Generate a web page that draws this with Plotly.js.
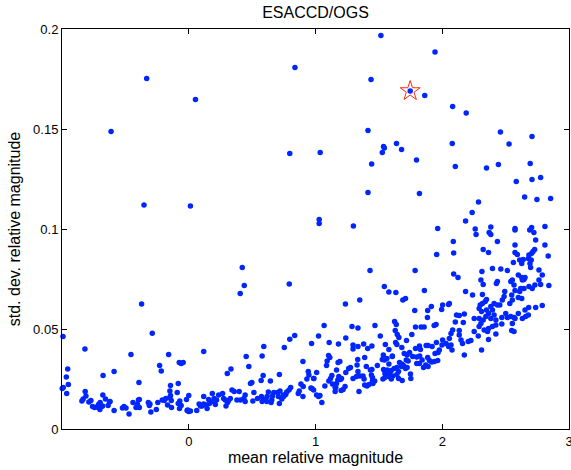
<!DOCTYPE html>
<html>
<head>
<meta charset="utf-8">
<script src="https://cdn.plot.ly/plotly-3.0.1.min.js"></script>
<style>html,body{margin:0;padding:0;background:#fff;}#chart{width:571px;height:470px;}</style>
</head>
<body>
<div id="chart"></div>
<script>
// mean relative magnitude (x) and std. dev. relative magnitude (y)

// low-left cluster
const meanA = [-0.992,-0.288,-0.819,-0.456,-0.159,-0.955,-0.966,-0.950,-0.990,-0.998,
  -0.963,-0.676,-0.589,-0.393,-0.230,-0.217,-0.075,-0.060,-0.044,-0.144,
  -0.083,-0.149,-0.144,-0.091,0.0,-0.817,-0.811,-0.833,-0.843,-0.788,
  -0.772,-0.759,-0.743,-0.725,-0.712,-0.699,-0.688,-0.701,-0.680,-0.678,
  -0.657,-0.636,-0.625,-0.621,-0.589,-0.523,-0.511,-0.495,-0.471,-0.440,
  -0.416,-0.405,-0.397,-0.390,-0.390,-0.319,-0.311,-0.306,-0.299,-0.256,
  -0.244,-0.209,-0.193,-0.181,-0.167,-0.136,-0.149,-0.138,-0.083,-0.071,
  -0.060,-0.073,-0.013,0.0];
const stdA = [0.0462,0.0479,0.040,0.0373,0.0373,0.030,0.026,0.0222,0.0207,0.0203,
  0.0178,0.0268,0.0287,0.0232,0.0318,0.029,0.0333,0.0328,0.0332,0.0218,
  0.0228,0.019,0.0168,0.0183,0.0167,0.0188,0.0165,0.015,0.014,0.0135,
  0.0142,0.0112,0.0108,0.011,0.0122,0.0133,0.0112,0.0098,0.0115,0.017,
  0.015,0.0117,0.0135,0.0137,0.0092,0.0105,0.0112,0.0105,0.0075,0.0132,
  0.0108,0.0122,0.0145,0.0148,0.0108,0.0132,0.0118,0.0125,0.0085,0.0098,
  0.0132,0.0145,0.0142,0.0153,0.012,0.0108,0.0158,0.0142,0.0127,0.014,
  0.0118,0.0103,0.0093,0.0087];

// 0 .. 1 cluster plus isolated points on the left half
const meanB = [0.118,0.836,0.797,0.969,0.592,0.754,0.453,0.579,0.474,0.901,
  0.333,0.304,0.587,0.571,0.715,0.644,0.498,0.487,0.943,0.948,
  0.932,0.985,0.885,0.903,0.872,0.864,0.964,0.985,0.901,0.804,
  0.791,0.773,0.765,0.749,0.734,0.746,0.720,0.702,0.707,0.671,
  0.660,0.655,0.650,0.628,0.618,0.616,0.595,0.579,0.573,0.715,
  0.542,0.514,0.506,0.445,0.435,0.445,0.408,0.398,0.380,0.359,
  0.341,0.328,0.314,0.306,0.294,0.288,0.275,0.267,0.236,0.220,
  0.210,0.200,0.192,0.186,0.163,0.157,0.145,0.137,0.118,0.118,
  0.105,0.092,0.082,0.063,0.013,-0.008,-0.018,
  0.422,0.438,0.406,0.793,-0.372,
  -0.332,0.053,0.838,-0.613,0.797,-0.353,0.013];
const stdB = [0.0388,0.0467,0.0449,0.0428,0.0413,0.0408,0.0362,0.0365,0.0313,0.0337,
  0.030,0.0278,0.0268,0.0243,0.0273,0.024,0.0232,0.0228,0.0287,0.027,
  0.025,0.0253,0.0225,0.0212,0.019,0.0178,0.0205,0.0195,0.0162,0.0208,
  0.0195,0.0185,0.0173,0.0162,0.015,0.017,0.019,0.0183,0.0162,0.0182,
  0.0165,0.0145,0.0132,0.0185,0.0162,0.0137,0.0148,0.0138,0.0162,0.0128,
  0.0153,0.0182,0.014,0.017,0.0153,0.0138,0.0145,0.0187,0.0145,0.0188,
  0.0195,0.0153,0.0142,0.0132,0.0115,0.0145,0.0153,0.0178,0.017,0.0145,
  0.0123,0.0153,0.0137,0.0178,0.0128,0.0148,0.0103,0.012,0.0125,0.0162,
  0.0115,0.0115,0.0125,0.0092,0.009,0.0095,0.0148,
  0.0807,0.0717,0.0677,0.0725,0.0625,
  0.1753,0.1648,0.1807,0.1487,0.1377,0.112,0.1115];

// 1 .. 2 cluster
const meanC = [1.236,1.349,1.689,1.914,1.783,1.885,1.883,1.068,1.288,1.335,
  1.469,1.624,1.637,1.789,1.833,1.857,1.936,1.951,1.024,1.239,
  1.108,1.181,1.296,1.296,1.335,1.380,1.412,1.445,1.511,1.629,
  1.645,1.658,1.632,1.642,1.681,1.551,1.579,1.606,1.718,1.760,
  1.789,1.820,1.828,1.873,1.888,1.920,1.954,1.967,1.943,1.742,
  1.723,1.700,1.716,1.731,1.767,1.799,1.822,1.841,1.885,1.899,
  1.917,1.938,1.964,1.870,1.888,1.852,1.820,1.799,1.663,1.681,
  1.694,1.679,1.710,1.723,1.642,1.621,1.655,1.684,1.749,1.752,
  1.535,1.527,1.543,1.563,1.606,1.579,1.488,1.445,1.433,1.401,
  1.388,1.333,1.328,1.441,1.449,1.453,1.537,1.553,1.566,1.548,
  1.584,1.598,1.577,1.548,1.532,1.598,1.610,1.642,1.655,1.262,
  1.276,1.239,1.205,1.197,1.184,1.176,1.166,1.155,1.155,1.129,
  1.119,1.105,1.134,1.296,1.323,1.349,1.375,1.383,1.388,1.406,
  1.422,1.449,1.467,1.335,1.343,1.103,1.092,1.087,1.113,1.178,
  1.192,1.166,1.233,1.218,1.202,1.160,1.074,1.035,1.009,1.050,
  1.024,0.972,0.987,1.009];
const stdC = [0.0625,0.0645,0.0645,0.0612,0.0592,0.0592,0.0558,0.0517,0.0512,0.0505,
  0.0517,0.0538,0.0522,0.051,0.051,0.051,0.0518,0.0522,0.0465,0.0455,
  0.0432,0.0425,0.042,0.040,0.0412,0.0425,0.0402,0.0415,0.0465,0.0492,
  0.0473,0.0457,0.0432,0.0423,0.0408,0.0423,0.0398,0.0362,0.0442,0.0472,
  0.0403,0.0415,0.0398,0.0418,0.0418,0.0413,0.0433,0.0382,0.0378,0.0382,
  0.037,0.0378,0.0345,0.034,0.0362,0.036,0.0365,0.0345,0.0358,0.0343,
  0.0335,0.0338,0.0342,0.032,0.0312,0.0308,0.0328,0.0328,0.0332,0.0325,
  0.0318,0.0312,0.0303,0.0308,0.0308,0.0303,0.0287,0.0242,0.0275,0.0253,
  0.037,0.0348,0.0345,0.0353,0.0365,0.0325,0.0317,0.0298,0.0295,0.0312,
  0.0358,0.0348,0.032,0.027,0.024,0.0228,0.0298,0.0287,0.0295,0.0278,
  0.0278,0.0292,0.0262,0.0258,0.025,0.025,0.0265,0.0272,0.0252,0.0303,
  0.0307,0.0282,0.0253,0.0248,0.0262,0.0245,0.0228,0.0208,0.0187,0.0267,
  0.0253,0.024,0.0225,0.0252,0.0262,0.0265,0.0265,0.025,0.022,0.0215,
  0.0223,0.0258,0.024,0.0287,0.0187,0.0367,0.034,0.0317,0.0358,0.0332,
  0.0337,0.0295,0.0212,0.0198,0.0192,0.0208,0.0215,0.0168,0.017,0.0133,
  0.0162,0.0202,0.0253,0.0282];

// 2 .. 2.45 cluster
const meanD = [2.317,2.349,2.339,2.317,2.299,2.291,2.310,2.349,2.365,2.383,
  2.344,2.323,2.291,2.252,2.305,2.291,2.331,2.365,2.396,2.423,
  2.423,2.409,2.396,2.383,2.409,2.435,2.365,2.423,2.310,2.284,
  2.252,2.226,2.205,2.174,2.160,2.148,2.134,2.134,2.166,2.174,
  2.134,2.113,2.103,2.082,2.069,2.056,2.069,2.077,2.050,2.030,
  2.003,1.998,1.977,2.050,2.003,1.995,2.056,2.357,2.323];
const stdD = [0.0673,0.0648,0.0637,0.0628,0.062,0.0603,0.0587,0.0595,0.0578,0.0553,
  0.0562,0.0545,0.0553,0.0553,0.0528,0.0512,0.0495,0.0502,0.0512,0.052,
  0.0545,0.057,0.0595,0.0612,0.0628,0.062,0.0448,0.0475,0.0395,0.0465,
  0.0487,0.0442,0.0437,0.037,0.0428,0.0445,0.047,0.0492,0.0532,0.0575,
  0.0567,0.057,0.0535,0.0495,0.0478,0.0453,0.042,0.0395,0.0412,0.0428,
  0.0445,0.042,0.0395,0.0623,0.062,0.0598,0.0628,0.0487,0.0723];

// right-hand cluster
const meanE = [2.370,2.383,2.574,2.574,2.690,2.705,2.723,2.810,2.435,2.323,
  2.365,2.574,2.737,2.810,2.716,2.729,2.705,2.684,2.679,2.702,
  2.692,2.697,2.639,2.611,2.627,2.592,2.574,2.561,2.836,2.396,
  2.462,2.514,2.313,2.305,2.427,2.435,2.600,2.627,2.645,2.653,
  2.632,2.553,2.540,2.566,2.763,2.789,2.763,2.776,2.841,2.731,
  2.684,2.710,2.645,2.619,2.611,2.600,2.627,2.574,2.548,2.553,
  2.533,2.493,2.488,2.474,2.454,
  2.470,2.470,2.501,2.514,
  2.540,2.566,2.553,2.574,2.600,2.632,2.658,2.679,2.653,2.737,
  2.789,2.548,2.566,2.682];
const stdE = [0.0982,0.0972,0.1003,0.0995,0.0995,0.1008,0.0983,0.1012,0.0937,0.0898,
  0.0883,0.092,0.0945,0.092,0.0887,0.0898,0.0878,0.087,0.0853,0.0845,
  0.0828,0.0807,0.0848,0.0845,0.0828,0.0873,0.0883,0.0832,0.0865,0.0803,
  0.080,0.0792,0.0787,0.0745,0.0728,0.0737,0.077,0.0758,0.0748,0.0758,
  0.0745,0.0745,0.0737,0.072,0.0795,0.077,0.0745,0.0723,0.0718,0.072,
  0.0712,0.0703,0.0703,0.0703,0.0687,0.0658,0.0653,0.0692,0.067,0.0645,
  0.0628,0.0687,0.0662,0.0645,0.062,
  0.0558,0.0525,0.0578,0.0557,
  0.0562,0.0557,0.0528,0.0553,0.0578,0.0553,0.0562,0.057,0.0595,0.0608,
  0.0617,0.0492,0.0487,0.0608];

// upper scattered points
const meanF = [1.516,1.943,1.438,1.747,1.862,2.082,2.189,1.414,2.459,2.708,
  1.639,1.537,1.543,1.527,1.679,2.079,2.527,1.037,1.443,1.797,
  2.103,2.349,2.443,2.694,2.584,2.708,2.776,1.414,1.820,2.286,
  2.650,2.747,2.855,2.236,2.184,1.029,1.029,1.299,1.964,2.260,
  2.383,2.267,2.087,2.090,1.956,1.430,1.786,2.090,2.124,1.543,
  1.579,1.634,1.859,2.184,2.239,1.710];
const stdF = [0.1968,0.1885,0.1747,0.169,0.1667,0.1613,0.158,0.1493,0.1485,0.1463,
  0.1427,0.1412,0.1405,0.1383,0.1398,0.1427,0.1425,0.1382,0.1325,0.1345,
  0.1312,0.1305,0.1322,0.1328,0.1237,0.1248,0.1257,0.1183,0.1178,0.1135,
  0.116,0.1148,0.1153,0.1083,0.104,0.1048,0.1027,0.1015,0.1002,0.100,
  0.101,0.0972,0.0937,0.088,0.0873,0.0792,0.0792,0.0775,0.0757,0.0713,
  0.0685,0.0682,0.0692,0.0687,0.067,0.0653];

// highlighted point (red star)
const starMean = [1.747];
const starStd = [0.169];

const xTickVals = [0, 1, 2, 3];
const xTickText = ['0', '1', '2', '3'];
const yTickVals = [0, 0.05, 0.1, 0.15, 0.2];
const yTickText = ['0', '0.05', '0.1', '0.15', '0.2'];

const allMean = [].concat(meanA, meanB, meanC, meanD, meanE, meanF);
const allStd = [].concat(stdA, stdB, stdC, stdD, stdE, stdF);

const traces = [
  {x: allMean, y: allStd, type: 'scatter', mode: 'markers', cliponaxis: false,
   marker: {color: '#0026ff', size: 5.5, line: {width: 0}}, hoverinfo: 'x+y'},
  {x: starMean, y: starStd, type: 'scatter', mode: 'markers',
   marker: {symbol: 'star-open', color: '#ff2a10', size: 15, line: {width: 1}}}
];

const axisCommon = {
  ticks: 'inside', ticklen: 5, tickwidth: 1, tickcolor: '#000',
  showline: true, linecolor: '#000', linewidth: 1, mirror: 'ticks',
  showgrid: false, zeroline: false, tickfont: {size: 13, color: '#000'},
  ticklabeloverflow: 'allow'
};

const layout = {
  width: 571, height: 470,
  margin: {l: 62, r: 2, t: 29, b: 41, pad: 0},
  paper_bgcolor: '#fff', plot_bgcolor: '#fff',
  font: {family: '"Liberation Sans", Arial, Helvetica, sans-serif', size: 13, color: '#000'},
  showlegend: false,
  title: {text: 'ESACCD/OGS', font: {size: 16, color: '#000'}, x: 0.5, xref: 'paper',
          y: 1 - 12.5 / 470, yref: 'container', yanchor: 'middle'},
  xaxis: Object.assign({}, axisCommon, {
    range: [-1, 3], tickmode: 'array', tickvals: xTickVals, ticktext: xTickText,
    title: {text: 'mean relative magnitude', font: {size: 16, color: '#000'}, standoff: 4}
  }),
  yaxis: Object.assign({}, axisCommon, {
    range: [0, 0.2], tickmode: 'array', tickvals: yTickVals, ticktext: yTickText,
    title: {text: 'std. dev. relative magnitude', font: {size: 16, color: '#000'}, standoff: 8}
  })
};

Plotly.newPlot('chart', traces, layout, {displayModeBar: false, staticPlot: true});
</script>
</body>
</html>
